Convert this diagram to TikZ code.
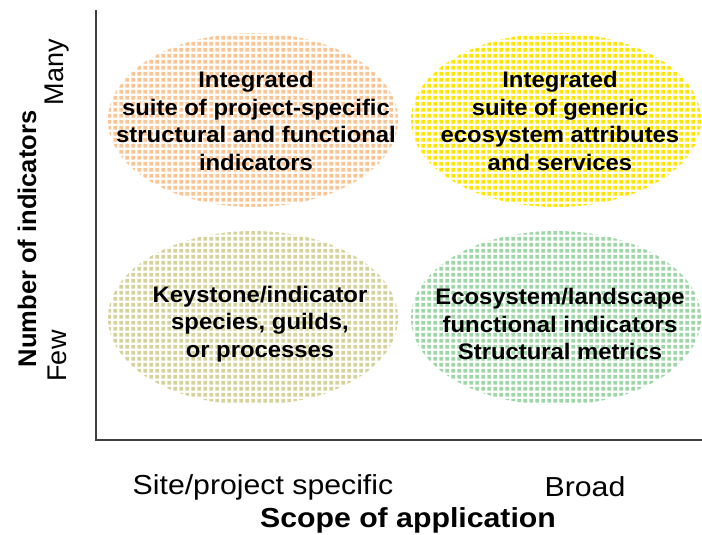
\documentclass[tikz,border=0pt]{standalone}
\usepackage{fontspec}
\setmainfont{Liberation Sans}
\newfontfamily\widesans[FakeStretch=1.06]{Liberation Sans}
\newfontfamily\labelsans[FakeStretch=1.1]{Liberation Sans}
\usepackage{tikz}
\usetikzlibrary{shapes.geometric,patterns.meta}

\definecolor{peach}{HTML}{FBC494}
\definecolor{lemon}{HTML}{FFE500}
\definecolor{khaki}{HTML}{D6D29E}
\definecolor{mint}{HTML}{9FD6A8}

\tikzdeclarepattern{
  name=squaredots,
  type=uncolored,
  bounding box={(0,0) and (6.3pt,6.3pt)},
  tile size={(6.3pt,6.3pt)},
  code={\fill (0.5pt,0.5pt) rectangle (4.7pt,4.7pt);}
}

\tikzset{
  blob/.style={ellipse, draw=none, minimum width=290pt, minimum height=174pt,
    inner sep=0pt, pattern=squaredots},
  blobtext/.style={align=center, font=\widesans\fontsize{22.5}{27.5}\selectfont\bfseries},
  axislabel/.style={font=\labelsans\fontsize{27.5}{30}\selectfont},
  sidelabel/.style={font=\fontsize{27}{30}\selectfont, rotate=90},
  axistitle/.style={font=\labelsans\fontsize{27.5}{30}\selectfont\bfseries}
}

\begin{document}
\begin{tikzpicture}[x=1pt,y=-1pt]
  \useasboundingbox (0,0) rectangle (702,535);
  % quadrants
  \node[blob, pattern color=peach] (tl) at (253,120) {};
  \node[blob, pattern color=lemon] (tr) at (556,120) {};
  \node[blob, pattern color=khaki] (bl) at (253,318) {};
  \node[blob, pattern color=mint] (br) at (556,318) {};
  \node[blobtext] (tlt) at (256,121) {Integrated\\suite of project-specific\\structural and functional\\indicators};
  \node[blobtext] (trt) at (560,121) {Integrated\\suite of generic\\ecosystem attributes\\and services};
  \node[blobtext] (blt) at (260,324) {Keystone/indicator\\species, guilds,\\or processes};
  \node[blobtext] (brt) at (560,324) {Ecosystem/landscape\\functional indicators\\Structural metrics};
  % axes
  \coordinate (ytop) at (96,10);
  \coordinate (origin) at (96,440);
  \coordinate (xend) at (702,440);
  \draw[line width=1.2pt, black!75] (ytop) -- (origin) -- (xend);
  % labels
  \node[axislabel] (site) at (263,487) {Site/project specific};
  \node[axislabel] (broad) at (585,487) {Broad};
  \node[axistitle] (scope) at (408,520) {Scope of application};
  \node[axistitle, font=\fontsize{25.5}{30}\selectfont\bfseries, rotate=90] (number) at (27,239) {Number of indicators};
  \node[sidelabel] (many) at (57,72) {Many};
  \node[sidelabel] (few) at (57,356) {Few};
\end{tikzpicture}
\end{document}
